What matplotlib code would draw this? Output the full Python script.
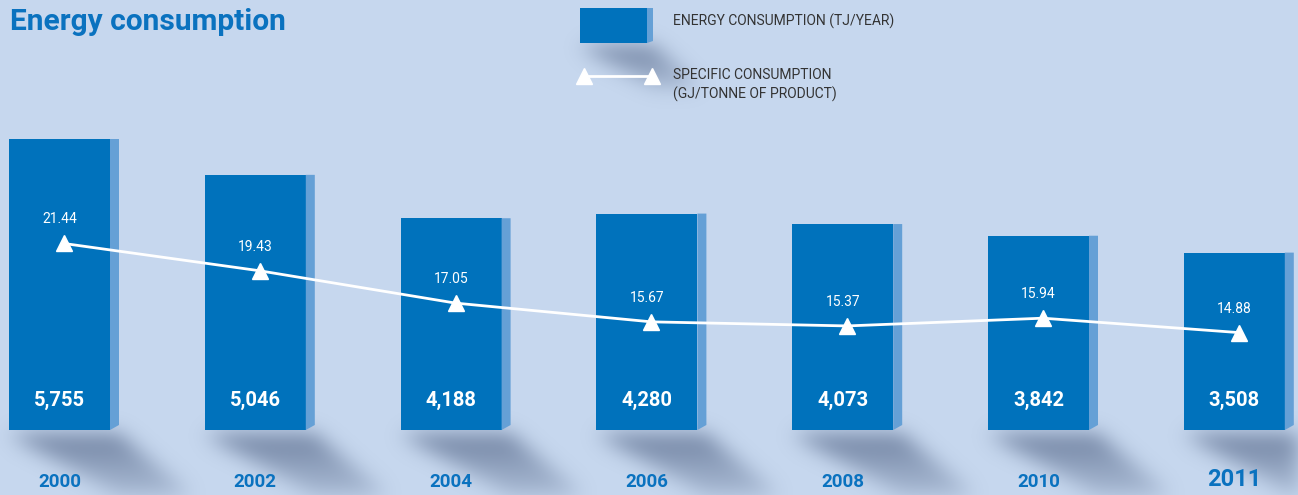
import matplotlib
matplotlib.use("Agg")
import matplotlib.pyplot as plt
import numpy as np
from matplotlib.patches import Polygon, Rectangle

years = ["2000", "2002", "2004", "2006", "2008", "2010", "2011"]
energy = [5755, 5046, 4188, 4280, 4073, 3842, 3508]          # TJ/year
specific = [21.44, 19.43, 17.05, 15.67, 15.37, 15.94, 14.88]  # GJ/tonne

W, H = 1298, 495
BG = "#c6d7ee"
BLUE = "#0072bc"
SIDE = "#65a0d6"
TITLE_BLUE = "#0a72bf"
FONT = "Roboto"

plt.rcParams["font.family"] = [FONT, "DejaVu Sans"]


def soft_shadow(boxes, sigma=10.0):
    """Blurred skewed streaks falling down-right from each box bottom."""
    yy, xx = np.mgrid[0:H, 0:W].astype(float)
    mask = np.zeros((H, W))
    for left, right, y0, depth in boxes:
        d = yy - y0
        inside = (d >= 0) & (d <= depth) & (xx >= left + 1.8 * d) & (xx <= right + 1.2 * d)
        mask = np.maximum(mask, inside * np.exp(-d / depth))
    r = int(3 * sigma)
    k = np.exp(-0.5 * (np.arange(-r, r + 1) / sigma) ** 2)
    k /= k.sum()
    mask = np.apply_along_axis(lambda v: np.convolve(v, k, mode="same"), 0, mask)
    mask = np.apply_along_axis(lambda v: np.convolve(v, k, mode="same"), 1, mask)
    img = np.zeros((H, W, 4))
    img[..., 0], img[..., 1], img[..., 2] = 0.36, 0.43, 0.56
    img[..., 3] = np.clip(mask * 0.85, 0, 1)
    return img


fig = plt.figure(figsize=(W / 100, H / 100), dpi=100)
fig.patch.set_facecolor(BG)
ax = fig.add_axes([0, 0, 1, 1])
ax.axis("off")

# layout in pixels -> data scales
pitch = 195.8          # px between bars
x_first = 59.5         # px centre of first bar face
base_px = 430          # px of zero line
top_px = 139           # px of tallest bar top
upp = max(energy) / (base_px - top_px)   # value units per px
xlim = (-x_first / pitch, (W - x_first) / pitch)
ylim = (-(H - base_px) * upp, base_px * upp)

x = np.arange(len(years))
bw = 101 / pitch
sx, sy = 9 / pitch, 5 * upp

boxes = [(x_first + pitch * i - 50.5, x_first + pitch * i + 59.5, base_px + 4, 60)
         for i in x]
boxes.append((580, 653, 46, 40))   # legend swatch
ax.imshow(soft_shadow(boxes), extent=(xlim[0], xlim[1], ylim[0], ylim[1]),
          origin="upper", aspect="auto", zorder=0, interpolation="bilinear")
ax.set_xlim(*xlim)
ax.set_ylim(*ylim)

bars = ax.bar(x, energy, width=bw, color=BLUE, zorder=3)
for b in bars:
    xr = b.get_x() + b.get_width()
    h = b.get_height()
    ax.add_patch(Polygon([(xr, 0), (xr + sx, sy), (xr + sx, h), (xr, h)],
                         closed=True, color=SIDE, lw=0, zorder=3))

for xi, v in zip(x, energy):
    ax.annotate(f"{v:,}", (xi, 0), xytext=(0, 30 * 0.72),
                textcoords="offset points", ha="center", va="center",
                color="white", fontsize=14.5, fontweight="bold", zorder=5)

for xi, yr in zip(x, years):
    big = yr == years[-1]
    ax.annotate(yr, (xi, 0), xytext=(0, -(50 if big else 52) * 0.72),
                textcoords="offset points", ha="center", va="center",
                color=TITLE_BLUE, fontsize=17 if big else 13.5,
                fontweight="bold", zorder=5)

# specific consumption line on its own scale
ax2 = ax.twinx()
ax2.axis("off")
ax2.set_ylim(2.92, 39.37)
xm = x + 4.5 / pitch
ax2.plot(xm, specific, color="white", lw=2, marker="^", ms=12,
         mec="white", mfc="white", zorder=6)
for xi, v in zip(x, specific):
    ax2.annotate(f"{v:.2f}", (xi, v), xytext=(0, 24 * 0.72),
                 textcoords="offset points", ha="center", va="center",
                 color="white", fontsize=10, zorder=6)

# title + legend drawn in pixel space
lg = fig.add_axes([0, 0, 1, 1])
lg.axis("off")
lg.set_xlim(0, W)
lg.set_ylim(H, 0)
lg.text(10, 22, "Energy consumption", ha="left", va="center",
        color=TITLE_BLUE, fontsize=21.5, fontweight="bold")

lg.add_patch(Rectangle((580, 8), 67, 35, color=BLUE, lw=0))
lg.add_patch(Polygon([(647, 8), (653, 8), (653, 41), (647, 43)],
                     closed=True, color=SIDE, lw=0))
lg.text(673, 21, "ENERGY CONSUMPTION (TJ/YEAR)", ha="left", va="center",
        color="#333333", fontsize=10)
lg.plot([584, 652], [76, 76], color="white", lw=2, marker="^", ms=12,
        mec="white", mfc="white")
lg.text(673, 75, "SPECIFIC CONSUMPTION", ha="left", va="center",
        color="#333333", fontsize=10)
lg.text(673, 94, "(GJ/TONNE OF PRODUCT)", ha="left", va="center",
        color="#333333", fontsize=10)

fig.savefig("out.png", dpi=100, facecolor=BG)
